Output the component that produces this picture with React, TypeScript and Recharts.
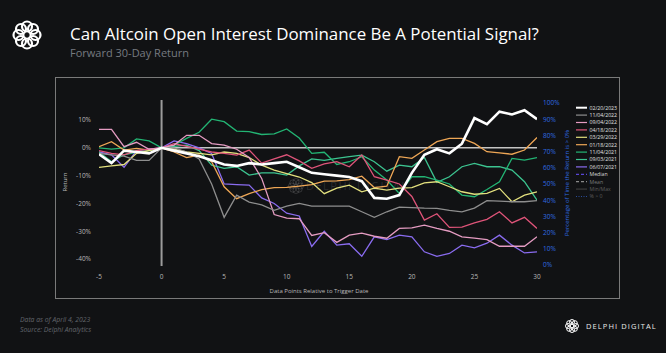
import React from "react";
import { LineChart, Line, XAxis, YAxis, ReferenceLine } from "recharts";

// trading-day offsets relative to the trigger date
const days = [
  -5, -4, -3, -2, -1, 0, 1, 2, 3, 4, 5, 6, 7, 8, 9, 10, 11, 12, 13, 14, 15, 16, 17, 18,
  19, 20, 21, 22, 23, 24, 25, 26, 27, 28, 29, 30,
];

// forward return (%) for each trigger date
const r20230220 = [
  -2.3, -5.5, -1, -1.5, -2, 0, -1, -2, -3, -4.5, -6, -6.5, -5.5, -6, -5.5, -5, -7, -9, -9.5,
  -10, -10.5, -12, -18, -18.3, -17, -9, -2.5, -0.5, -2, 1.5, 10.7, 8.5, 13, 12, 13.5, 10.3,
];
const r20221104 = [
  -2, -2.5, -3, -4.5, -4.5, 0, 0, -1.5, -4, -13, -25, -17, -19.5, -20.5, -22.5, -21, -20, -21,
  -21, -21, -21, -23, -25, -23, -21.3, -21.5, -21.7, -21.8, -22.5, -23, -21.7, -19, -19.2,
  -19.4, -19.4, -19,
];
const r20220904 = [
  6.6, 6.6, 0.4, 2, -0.5, 0, 1, 4.5, 4.5, 1.5, 1, -0.5, -3.5, -11, -24, -25.3, -25.5, -31.5,
  -30.5, -34, -31.4, -30.7, -31.8, -32.5, -29, -28.8, -27.8, -29, -30, -32, -32.5, -33, -35.4,
  -35.4, -35.4, -32,
];
const r20220418 = [
  -1, -2, -2.5, -1, -0.5, 0, 1.5, 0.5, -0.5, -1.5, -2, -2.6, -0.8, -5.5, -4, -2.5, -4.7, -7.4,
  -5.8, -5, -6.8, -2.6, -10.4, -11.6, -13, -17.5, -26, -23.7, -28.6, -28.5, -27, -25.7, -23,
  -27, -25, -29,
];
const r20220329 = [
  -7, -6.5, -6, -2, -1, 0, -0.5, -1.5, -2, -2.5, -1.5, -2, -3.5, -6.2, -8, -9.3, -10.5, -12.5,
  -16.5, -14.5, -13.4, -15.8, -14.5, -15.2, -14.5, -14.3, -12.6, -12.2, -14, -15.8, -16.7,
  -16.4, -14.6, -19.4, -17, -15.8,
];
const r20220118 = [
  0.4, 2.2, -0.8, -0.2, -0.8, 0, -1.5, -3.5, -2.6, -5, -14, -18.3, -16.5, -15, -14.3, -14.2,
  -13.8, -13.2, -12, -11.9, -11.4, -10.2, -14.3, -13.8, -3.2, -3.8, -0.8, 2.2, 3.4, 3.4, 1.6,
  -1.4, -1.8, -2.3, -0.8, 3.7,
];
const r20211104 = [
  0, -0.5, 0, 3.2, 2.5, 0, 1, 3.4, 5.6, 10.3, 9.4, 6, 5.8, 4.8, 5, 6.8, 3.5, -2, -1.6, -6, -5,
  -3.2, -8, -11.6, -16.4, -10.4, -10.4, -11.6, -13, -17, -17.6, -15, -12.2, -3.8, -4.4, -3.5,
];
const r20210903 = [
  -1.5, -5, -2.5, -1.5, -1, 0, 0.5, 1, -1, -6.2, -7.4, -6.8, -9.8, -9, -9, -9.8, -6.5, -4, -4.5,
  -3.8, -3.2, -2.6, -5, -8.4, -6.2, -6.8, -3.5, -12.4, -10.4, -6.8, -5.6, -6.8, -6.8, -8, -12.2,
  -18.8,
];
const r20210607 = [
  -1.5, -2.5, -7, -1, -0.5, 0, 2.5, 1.5, 0, -2, -13, -13.2, -13.4, -18, -20, -23.5, -24.5, -35.5,
  -30, -35, -34.5, -39, -32, -33, -31.4, -32, -37.4, -39, -38, -35, -36, -34.3, -31.4, -35,
  -37.8, -37.4,
];

const xTicks = [-5, 0, 5, 10, 15, 20, 25, 30];
const leftTicks = [-40, -30, -20, -10, 0, 10];
const rightTicks = [0, 10, 20, 30, 40, 50, 60, 70, 80, 90, 100];

const series = [
  { key: "d20230220", label: "02/20/2023", values: r20230220, color: "#ffffff", width: 2.6 },
  { key: "d20221104", label: "11/04/2022", values: r20221104, color: "#8e8e8e", width: 1.3 },
  { key: "d20220904", label: "09/04/2022", values: r20220904, color: "#e59cc2", width: 1.3 },
  { key: "d20220418", label: "04/18/2022", values: r20220418, color: "#df5479", width: 1.3 },
  { key: "d20220329", label: "03/29/2022", values: r20220329, color: "#e3e07e", width: 1.3 },
  { key: "d20220118", label: "01/18/2022", values: r20220118, color: "#efa756", width: 1.3 },
  { key: "d20211104", label: "11/04/2021", values: r20211104, color: "#23b574", width: 1.3 },
  { key: "d20210903", label: "09/03/2021", values: r20210903, color: "#3cc490", width: 1.3 },
  { key: "d20210607", label: "06/07/2021", values: r20210607, color: "#8a6cf0", width: 1.3 },
];

const extraLegend = [
  { label: "Median", color: "#5846d6", dash: "3 2", text: "#d8d8d8" },
  { label: "Mean", color: "#8a8a8a", dash: "3 2", text: "#7a7a7a" },
  { label: "Min/Max", color: "#3c3c3c", dash: undefined, text: "#5e5e5e" },
  { label: "% > 0", color: "#2a4c9a", dash: "1 1.5", text: "#5e5e5e" },
];

const rows = days.map((t, i) => {
  const row: any = { t };
  series.forEach((s) => {
    row[s.key] = s.values[i];
  });
  return row;
});

const pct = (v: number) => `${v}%`;

function Knot({ cx, cy, R, r, w, op = 1 }: any) {
  const n = 8;
  return (
    <g fill="none" stroke="#ffffff" strokeWidth={w} strokeOpacity={op}>
      {Array.from({ length: n }).map((_, i) => {
        const a = (i / n) * Math.PI * 2;
        return <circle key={i} cx={cx + R * Math.cos(a)} cy={cy + R * Math.sin(a)} r={r} />;
      })}
    </g>
  );
}

export default function App() {
  const font = '"Open Sans", "DejaVu Sans", sans-serif';
  return (
    <div
      style={{
        position: "fixed",
        left: 0,
        top: 0,
        width: 666,
        height: 353,
        background: "#111214",
        overflow: "hidden",
        fontFamily: font,
      }}
    >
      <svg width={666} height={353} style={{ position: "absolute", left: 0, top: 0 }}>
        {/* header */}
        <Knot cx={27} cy={35} R={8.5} r={5} w={2.2} />
        <text x={70} y={40} fill="#ffffff" fontSize={16.9} fontFamily={font}>
          Can Altcoin Open Interest Dominance Be A Potential Signal?
        </text>
        <text x={70} y={57} fill="#767a80" fontSize={11} fontFamily={font}>
          Forward 30-Day Return
        </text>

        {/* panel */}
        <rect x={55.5} y={77.5} width={564} height={221} fill="none" stroke="#7a7a7a" strokeWidth={1} />

        {/* watermark */}
        <Knot cx={296} cy={186} R={4.5} r={3} w={1} op={0.14} />
        <text x={306} y={190} fill="#ffffff" fillOpacity={0.12} fontSize={11} letterSpacing={1.5} fontFamily={font}>
          DELPHI DIGITAL
        </text>

        {/* axis titles */}
        <text
          x={67}
          y={182}
          transform="rotate(-90 67 182)"
          textAnchor="middle"
          fill="#b8b8b8"
          fontSize={6}
          fontFamily={font}
        >
          Return
        </text>
        <text x={319} y={293} textAnchor="middle" fill="#b8b8b8" fontSize={6} fontFamily={font}>
          Data Points Relative to Trigger Date
        </text>
        <text
          x={569}
          y={183}
          transform="rotate(-90 569 183)"
          textAnchor="middle"
          fill="#2f6be0"
          fontSize={6}
          fontFamily={font}
        >
          Percentage of Time the Return is &gt; 0%
        </text>

        {/* legend */}
        {series.map((s, i) => (
          <g key={s.key}>
            <line x1={576} x2={587} y1={107.7 + i * 7.4} y2={107.7 + i * 7.4} stroke={s.color} strokeWidth={i === 0 ? 2 : 1.2} />
            <text x={589.5} y={109.5 + i * 7.4} fill="#e2e2e2" fontSize={5.2} fontFamily={font}>
              {s.label}
            </text>
          </g>
        ))}
        {extraLegend.map((s, j) => {
          const i = j + series.length;
          return (
            <g key={s.label}>
              <line
                x1={576}
                x2={587}
                y1={107.7 + i * 7.4}
                y2={107.7 + i * 7.4}
                stroke={s.color}
                strokeWidth={1.2}
                strokeDasharray={s.dash}
              />
              <text x={589.5} y={109.5 + i * 7.4} fill={s.text} fontSize={5.2} fontFamily={font}>
                {s.label}
              </text>
            </g>
          );
        })}

        {/* footer */}
        <text x={20} y={322} fill="#62666c" fontSize={6.8} fontStyle="italic" fontFamily={font}>
          Data as of April 4, 2023
        </text>
        <text x={20} y={332} fill="#62666c" fontSize={6.8} fontStyle="italic" fontFamily={font}>
          Source: Delphi Analytics
        </text>
        <Knot cx={572} cy={326} R={4} r={2.5} w={1} />
        <text x={586} y={329} fill="#e8e8e8" fontSize={7.5} letterSpacing={1.1} fontFamily={font}>
          DELPHI DIGITAL
        </text>
      </svg>

      <div style={{ position: "absolute", left: 0, top: 0 }}>
        <LineChart width={666} height={353} data={rows} margin={{ top: 100, right: 0, bottom: 67, left: 0 }}>
          <XAxis
            dataKey="t"
            type="number"
            domain={[-5, 30]}
            ticks={xTicks}
            allowDataOverflow
            height={20}
            axisLine={false}
            tickLine={false}
            tick={{ fill: "#b8b8b8", fontSize: 6.5, fontFamily: font }}
          />
          <YAxis
            yAxisId="left"
            width={99}
            domain={[-42.5, 17.2]}
            ticks={leftTicks}
            allowDataOverflow
            axisLine={false}
            tickLine={false}
            tickFormatter={pct}
            tick={{ fill: "#b8b8b8", fontSize: 6.5, fontFamily: font }}
          />
          <YAxis
            yAxisId="right"
            orientation="right"
            width={129}
            domain={[-0.6, 101.9]}
            ticks={rightTicks}
            allowDataOverflow
            axisLine={false}
            tickLine={false}
            tickMargin={0}
            tickFormatter={pct}
            tick={{ fill: "#2f6be0", fontSize: 6.5, fontFamily: font, textAnchor: "start" }}
          />
          <ReferenceLine
            yAxisId="left"
            segment={[
              { x: 0, y: 0 },
              { x: 30, y: 0 },
            ]}
            stroke="#c4c4c4"
            strokeWidth={1.5}
          />
          <ReferenceLine yAxisId="left" x={0} stroke="#9c9c9c" strokeWidth={2} />
          {[...series].reverse().map((s) => (
            <Line
              key={s.key}
              yAxisId="left"
              dataKey={s.key}
              type="linear"
              stroke={s.color}
              strokeWidth={s.width}
              dot={false}
              isAnimationActive={false}
            />
          ))}
        </LineChart>
      </div>
    </div>
  );
}
